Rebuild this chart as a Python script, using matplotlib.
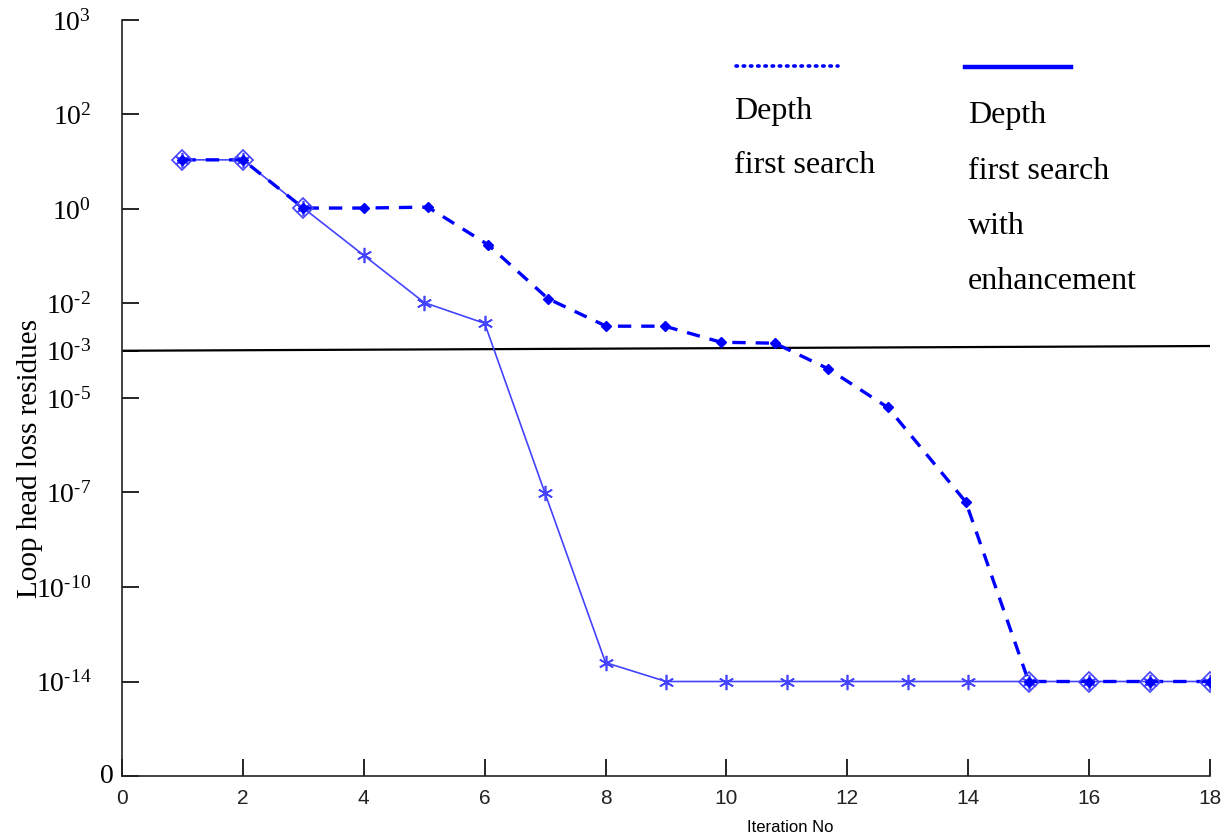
import numpy as np
import matplotlib
matplotlib.use('Agg')
import matplotlib.pyplot as plt

# positions on the chart's (piecewise) residue scale, 1 unit per tick step
tick_pos = [0, 1, 2, 3, 4, 4.5, 5, 6, 7, 8]
tick_labels = ['', r'$\mathregular{10^{\text{-}14}}$',
               r'$\mathregular{10^{\text{-}10}}$',
               r'$\mathregular{10^{\text{-}7}}$', r'$\mathregular{10^{\text{-}5}}$',
               r'$\mathregular{10^{\text{-}3}}$', r'$\mathregular{10^{\text{-}2}}$',
               r'$\mathregular{10^{0}}$', r'$\mathregular{10^{2}}$',
               r'$\mathregular{10^{3}}$']

# depth first search (dashed)
dfs_x = [1, 2, 3, 4, 5.06, 6.06, 7.05, 8.01, 8.98, 9.91, 10.8, 11.68,
         12.67, 13.96, 15, 16, 17, 18]
dfs_y = [6.52, 6.52, 6.01, 6.01, 6.02, 5.62, 5.05, 4.76, 4.76, 4.59, 4.58,
         4.31, 3.90, 2.90, 1.0, 1.0, 1.0, 1.0]

# depth first search with enhancement (solid)
enh_x = list(range(1, 19))
enh_y = [6.52, 6.52, 6.01, 5.51, 5.01, 4.79, 2.99, 1.20, 1.0, 1.0, 1.0, 1.0,
         1.0, 1.0, 1.0, 1.0, 1.0, 1.0]

# tolerance line
tol_x = [0, 18]
tol_y = [4.50, 4.55]

plt.rcParams['font.family'] = ['Liberation Serif', 'DejaVu Serif']
plt.rcParams['mathtext.fontset'] = 'stix'

fig = plt.figure(figsize=(12.32, 8.38), dpi=100)
ax = fig.add_axes([122/1232, 1 - 776/838, (1210 - 122)/1232, (776 - 20)/838])

ax.plot(tol_x, tol_y, color='black', lw=1.6, zorder=2)
ax.plot(enh_x, enh_y, color='#4444ff', lw=1.2, marker=(6, 2, 0),
        markersize=11, markeredgewidth=1.2, zorder=3)
ax.plot(dfs_x, dfs_y, color='#0000ff', lw=2.4, ls=(0, (4, 3)), marker='D',
        markersize=5.5, markerfacecolor='#0000ff', zorder=4)
# open diamond markers where both curves coincide
both = [i for i in range(len(enh_x)) if enh_x[i] in dfs_x
        and abs(enh_y[i] - dfs_y[dfs_x.index(enh_x[i])]) < 0.02]
ax.plot([enh_x[i] for i in both], [enh_y[i] for i in both], ls='none',
        marker='D', markersize=10, markerfacecolor='none',
        markeredgecolor='#4444ff', markeredgewidth=1.2, zorder=5)

ax.set_xlim(0, 18)
ax.set_ylim(0, 8)
ax.set_yticks(tick_pos)
ax.set_yticklabels(tick_labels, fontsize=20)
ax.set_xticks(np.arange(0, 19, 2))
ax.set_xticklabels([str(v) for v in range(0, 19, 2)], family='Liberation Sans',
                   fontsize=15, color='#222222')
ax.tick_params(direction='in', length=12, width=1.2)
ax.tick_params(axis='y', pad=22)
ax.tick_params(axis='x', pad=9)
for s in ['top', 'right']:
    ax.spines[s].set_visible(False)
for s in ['left', 'bottom']:
    ax.spines[s].set_linewidth(1.2)
    ax.spines[s].set_color('#222222')
# the zero label sits closer to the axis
ax.text(-0.008, 0, '0', transform=ax.get_yaxis_transform(), fontsize=20,
        ha='right', va='center')

ax.set_xlabel('Iteration No', family='Liberation Sans', fontsize=12)
ax.xaxis.set_label_coords(0.614, -0.058)
ax.set_ylabel('Loop head loss residues', fontsize=21)
ax.yaxis.set_label_coords(-0.073, 0.42)

# hand-drawn legend
ax.plot([10.15, 11.85], [7.51, 7.51], color='#0000ff', lw=2.6,
        ls=(0, (0.4, 1.6)), dash_capstyle='round', clip_on=False)
ax.plot([13.95, 15.7], [7.50, 7.50], color='#0000ff', lw=3.2, clip_on=False)
ax.text(10.12, 7.19, 'Depth\nfirst search', fontsize=23, va='top',
        linespacing=2.14)
ax.text(14.0, 7.14, 'Depth\nfirst search\nwith\nenhancement', fontsize=23,
        va='top', linespacing=2.2)

fig.savefig('out.png', dpi=100)
